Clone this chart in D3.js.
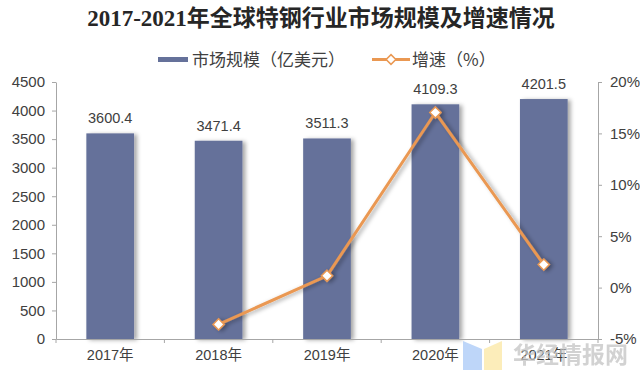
<!DOCTYPE html>
<html>
<head>
<meta charset="utf-8">
<script src="https://cdn.jsdelivr.net/npm/d3@7"></script>
<style>
  body { margin: 0; background: #fff; }
  svg { display: block; font-family: "Liberation Sans", Arial, "Noto Sans CJK SC", sans-serif; }
</style>
</head>
<body>
<svg id="chart" width="640" height="370"></svg>
<script>
var years = ["2017年", "2018年", "2019年", "2020年", "2021年"];
var marketSize = [3600.4, 3471.4, 3511.3, 4109.3, 4201.5];
var growthYears = ["2018年", "2019年", "2020年", "2021年"];
var growthRate = [-3.58, 1.15, 17.03, 2.24];
var leftTicks = [0, 500, 1000, 1500, 2000, 2500, 3000, 3500, 4000, 4500];
var rightTicks = [-5, 0, 5, 10, 15, 20];

var width = 640, height = 370;
var margin = {left: 56, right: 42, top: 82, bottom: 31};
var barColor = "#65719a", lineColor = "#ea9852", textColor = "#404040", axisColor = "#a6a6a6";

var svg = d3.select("#chart");

var defs = svg.append("defs");
var sh = defs.append("filter").attr("id", "shadow")
    .attr("x", "-20%").attr("y", "-5%").attr("width", "150%").attr("height", "115%");
sh.append("feDropShadow").attr("dx", 3).attr("dy", 1).attr("stdDeviation", 2)
    .attr("flood-color", "#000").attr("flood-opacity", 0.35);

var x = d3.scaleBand().domain(years)
    .range([margin.left, width - margin.right])
    .paddingInner(0.56).paddingOuter(0.28);
var yL = d3.scaleLinear().domain([0, 4500]).range([height - margin.bottom, margin.top]);
var yR = d3.scaleLinear().domain([-5, 20]).range([height - margin.bottom, margin.top]);

// title
svg.append("text")
    .attr("x", 321).attr("y", 26)
    .attr("text-anchor", "middle")
    .attr("font-family", "'Liberation Serif', 'DejaVu Serif', 'Noto Sans CJK SC', serif")
    .attr("font-weight", "bold")
    .attr("font-size", 23)
    .attr("fill", "#262626")
    .text("2017-2021年全球特钢行业市场规模及增速情况");

// legend
var lg = svg.append("g").attr("font-family", "'Noto Sans CJK SC', sans-serif").attr("font-size", 17).attr("fill", textColor);
lg.append("rect").attr("x", 158).attr("y", 57).attr("width", 30).attr("height", 5).attr("fill", barColor);
lg.append("text").attr("x", 192).attr("y", 66).text("市场规模（亿美元）");
lg.append("line").attr("x1", 372).attr("x2", 410).attr("y1", 59.5).attr("y2", 59.5)
    .attr("stroke", lineColor).attr("stroke-width", 3);
lg.append("path").attr("d", d3.symbol(d3.symbolDiamond2, 60)())
    .attr("transform", "translate(391,59.5)")
    .attr("fill", "#fff").attr("stroke", lineColor).attr("stroke-width", 1.5);
lg.append("text").attr("x", 412).attr("y", 66).text("增速（%）");

// bars
svg.append("g").selectAll("rect").data(marketSize).join("rect")
    .attr("x", function(d, i){ return x(years[i]); })
    .attr("y", function(d){ return yL(d); })
    .attr("width", x.bandwidth())
    .attr("height", function(d){ return yL(0) - yL(d); })
    .attr("fill", barColor)
    .attr("filter", "url(#shadow)");

// bar value labels
svg.append("g").selectAll("text").data(marketSize).join("text")
    .attr("x", function(d, i){ return x(years[i]) + x.bandwidth() / 2; })
    .attr("y", function(d){ return yL(d) - 10; })
    .attr("text-anchor", "middle")
    .attr("font-size", 14.5)
    .attr("fill", textColor)
    .text(function(d){ return d.toFixed(1); });

// axes
var axL = svg.append("g").attr("transform", "translate(" + margin.left + ",0)")
    .call(d3.axisLeft(yL).tickValues(leftTicks).tickSize(4).tickSizeOuter(0).tickPadding(7)
        .tickFormat(d3.format("d")));
var axR = svg.append("g").attr("transform", "translate(" + (width - margin.right) + ",0)")
    .call(d3.axisRight(yR).tickValues(rightTicks).tickSize(4).tickSizeOuter(0).tickPadding(8)
        .tickFormat(function(d){ return d + "%"; }));
var axB = svg.append("g").attr("transform", "translate(0," + (height - margin.bottom) + ")")
    .call(d3.axisBottom(x).tickSize(0).tickSizeOuter(0).tickPadding(11));

[axL, axR, axB].forEach(function(a){
  a.select(".domain").attr("stroke", axisColor);
  a.selectAll(".tick line").attr("stroke", axisColor);
  a.selectAll(".tick text").attr("fill", textColor).attr("font-size", 15)
      .attr("font-family", "'Liberation Sans', Arial, 'Noto Sans CJK SC', sans-serif");
});
axB.selectAll(".tick text").attr("font-size", 14.5);

// category boundary ticks on x axis
var bounds = d3.range(years.length + 1).map(function(i){ return x.range()[0] + i * x.step(); });
svg.append("g").selectAll("line").data(bounds).join("line")
    .attr("x1", function(d){ return d; }).attr("x2", function(d){ return d; })
    .attr("y1", height - margin.bottom).attr("y2", height - margin.bottom + 4)
    .attr("stroke", axisColor);

// growth line
var line = d3.line()
    .x(function(d, i){ return x(growthYears[i]) + x.bandwidth() / 2; })
    .y(function(d){ return yR(d); });
var lineG = svg.append("g").attr("filter", "url(#shadow)");
lineG.append("path").datum(growthRate)
    .attr("d", line)
    .attr("fill", "none")
    .attr("stroke", lineColor)
    .attr("stroke-width", 3);
lineG.selectAll(".pt").data(growthRate).join("path")
    .attr("class", "pt")
    .attr("d", d3.symbol(d3.symbolDiamond2, 80)())
    .attr("transform", function(d, i){
      return "translate(" + (x(growthYears[i]) + x.bandwidth() / 2) + "," + yR(d) + ")";
    })
    .attr("fill", "#fff")
    .attr("stroke", lineColor)
    .attr("stroke-width", 1.5);

// watermark
var wm = svg.append("g").attr("opacity", 0.75);
wm.append("path").attr("d", "M463,341 L482,349 L482,370 L463,370 Z").attr("fill", "#a9c9f7");
wm.append("path").attr("d", "M484,349 L502,341 L502,370 L484,370 Z").attr("fill", "#fbe8a3");
wm.append("text").attr("x", 513).attr("y", 363)
    .attr("font-family", "'Noto Sans CJK SC', sans-serif")
    .attr("font-weight", "bold").attr("font-size", 23)
    .attr("fill", "#c4c4c4")
    .text("华经情报网");
</script>
</body>
</html>
